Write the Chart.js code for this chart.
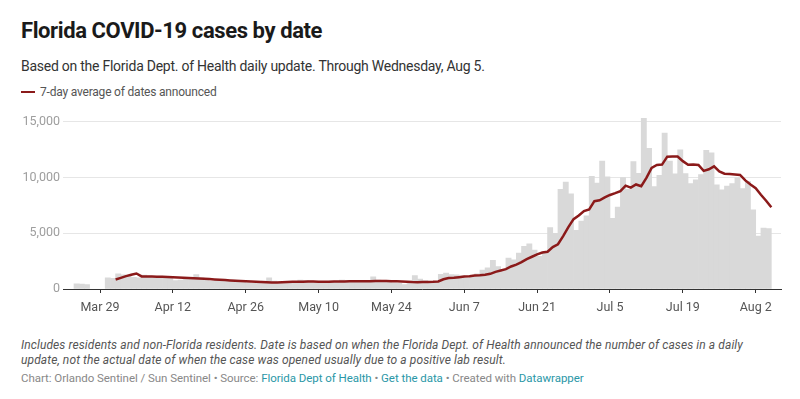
<!DOCTYPE html>
<html>
<head>
<meta charset="utf-8">
<script src="https://cdn.jsdelivr.net/npm/chart.js@4.4.1/dist/chart.umd.min.js"></script>
<style>
  body { margin: 0; background: #fff; font-family: Roboto, "Noto Sans", sans-serif; }
  #wrap { position: relative; width: 800px; height: 399px; overflow: hidden; }
  .t { position: absolute; left: 21px; white-space: nowrap; line-height: 1; }
  #title { top: 20px; font-size: 22px; font-weight: 700; color: #1a1a1a; letter-spacing: -0.4px; }
  #sub { top: 59px; font-size: 14px; color: #333; letter-spacing: -0.25px; }
  #legend { top: 86px; font-size: 12px; color: #555; letter-spacing: -0.2px; }
  #legend i { display: inline-block; width: 14px; height: 2.5px; background: #8b1a1a; vertical-align: 3px; margin-right: 5px; }
  #chart { position: absolute; left: 0; top: 100px; }
  .note { font-style: italic; font-size: 12px; color: #555; letter-spacing: 0.1px; }
  #note1 { top: 339px; }
  #note2 { top: 354px; }
  #byline { top: 373px; font-size: 11.5px; color: #888; letter-spacing: -0.05px; }
  #byline a { color: #2a97a7; text-decoration: none; }
</style>
</head>
<body>
<div id="wrap">
  <div class="t" id="title">Florida COVID-19 cases by date</div>
  <div class="t" id="sub">Based on the Florida Dept. of Health daily update. Through Wednesday, Aug 5.</div>
  <div class="t" id="legend"><i></i>7-day average of dates announced</div>
  <canvas id="chart" width="800" height="220"></canvas>
  <div class="t note" id="note1">Includes residents and non-Florida residents. Date is based on when the Florida Dept. of Health announced the number of cases in a daily</div>
  <div class="t note" id="note2">update, not the actual date of when the case was opened usually due to a positive lab result.</div>
  <div class="t" id="byline">Chart: Orlando Sentinel / Sun Sentinel • Source: <a>Florida Dept of Health</a> • <a>Get the data</a> • Created with <a>Datawrapper</a></div>
</div>
<script>
/* --------------- Data: one value per day, starting Mar 24, 2020 --------------- */
const startDate = new Date(2020, 2, 24);
const tickLabels = ["Mar 29", "Apr 12", "Apr 26", "May 10", "May 24", "Jun 7", "Jun 21", "Jul 5", "Jul 19", "Aug 2"];
const yTicks = [0, 5000, 10000, 15000];

// new cases announced each day
const cases = [
  null, 460, 450, 390, null, null, null, 1000, 950, 1350,
  1260, 1200, 1050, 1000, 1250, 1150, 1100, 1150, 1050, 950,
  750, 800, 1000, 1050, 1300, 1000, 850, 700, 800, 750,
  700, 800, 650, 600, 550, 500, 600, 700, 1000, 700,
  600, 650, 550, 600, 800, 750, 700, 600, 550, 600,
  700, 650, 800, 750, 700, 600, 650, 750, 1100, 800,
  750, 700, 550, 500, 400, 650, 1200, 900, 750, 670,
  620, 1320, 1420, 1300, 1270, 1180, 970, 1100, 1370, 1700,
  1900, 2580, 2020, 1760, 2780, 2610, 3210, 3820, 4050, 3490,
  2930, 3290, 5510, 5000, 8940, 9590, 8530, 5270, 6090, 6560,
  10110, 9490, 11460, 10060, 6340, 7350, 9990, 8940, 11430, 10360,
  15300, 12620, 9190, 10180, 13970, 11470, 10330, 12480, 10350, 9440,
  9790, 10250, 12440, 12200, 9340, 8890, 9230, 9450, 9960, 9010,
  9640, 7100, 4750, 5450, 5410
];

// 7-day average of dates announced
const avg7 = [
  null, null, null, null, null, null, null, null, 850, 1000,
  1150, 1280, 1390, 1130, 1120, 1110, 1100, 1090, 1070, 1050,
  1030, 1010, 990, 970, 950, 920, 890, 860, 830, 800,
  770, 740, 720, 690, 670, 640, 620, 600, 580, 590,
  610, 630, 640, 650, 660, 670, 670, 660, 650, 660,
  670, 670, 680, 690, 690, 700, 690, 690, 710, 720,
  710, 700, 690, 680, 650, 620, 610, 620, 630, 640,
  680, 870, 980, 1000, 1050, 1110, 1150, 1220, 1230, 1270,
  1360, 1540, 1660, 1780, 2020, 2190, 2410, 2680, 2890, 3100,
  3270, 3340, 3760, 4010, 4740, 5540, 6260, 6590, 6990, 7140,
  7870, 7950, 8220, 8430, 8590, 8770, 9260, 9090, 9370, 9210,
  9960, 10860, 11120, 11150, 11860, 11870, 11870, 11460, 11140, 11170,
  11120, 10590, 10730, 10990, 10540, 10340, 10310, 10260, 10220, 9730,
  9360, 9040, 8450, 7910, 7330
];

/* --------------- Day index of each tick label --------------- */
const tickDays = tickLabels.map(l => Math.round((new Date(l + " 2020") - startDate) / 864e5));
const labelOf = {};
tickDays.forEach((d, i) => { labelOf[d] = tickLabels[i]; });

/* --------------- Chart --------------- */
// each bar covers the day ending at its announcement date
new Chart(document.getElementById("chart"), {
  type: "bar",
  data: {
    datasets: [
      {
        type: "line",
        data: avg7.map((v, i) => ({ x: i, y: v })),
        borderColor: "#8b1a1a",
        borderWidth: 2.5,
        pointRadius: 0,
        order: 0,
      },
      {
        type: "bar",
        data: cases.map((v, i) => ({ x: i - 0.5, y: v })),
        backgroundColor: "#d9d9d9",
        barPercentage: 1,
        categoryPercentage: 1,
        order: 1,
      },
    ],
  },
  options: {
    responsive: false,
    animation: false,
    layout: { padding: { top: 8.7, right: 19, left: 0, bottom: 0 } },
    plugins: { legend: { display: false }, tooltip: { enabled: false } },
    scales: {
      x: {
        type: "linear",
        offset: false,
        min: -2.11,
        max: 135.86,
        afterBuildTicks: (axis) => { axis.ticks = tickDays.map(v => ({ value: v })); },
        afterFit: (axis) => { axis.height = 31; },
        ticks: {
          callback: (v) => labelOf[v],
          autoSkip: false,
          maxRotation: 0,
          padding: 7,
          color: "#555",
          font: { family: "Roboto", size: 12.5 },
        },
        grid: { offset: false, drawOnChartArea: false, drawTicks: true, tickLength: 4, tickColor: "#333" },
        border: { color: "#333", width: 1 },
      },
      y: {
        min: 0,
        max: 16000,
        afterBuildTicks: (axis) => { axis.ticks = yTicks.map(v => ({ value: v })); },
        afterFit: (axis) => { axis.width = 63; },
        ticks: {
          callback: (v) => v.toLocaleString("en-US"),
          padding: 3,
          color: "#9e9e9e",
          font: { family: "Roboto", size: 12.5 },
        },
        grid: { color: "#e6e6e6", drawTicks: false },
        border: { display: false },
      },
    },
  },
});
</script>
</body>
</html>
